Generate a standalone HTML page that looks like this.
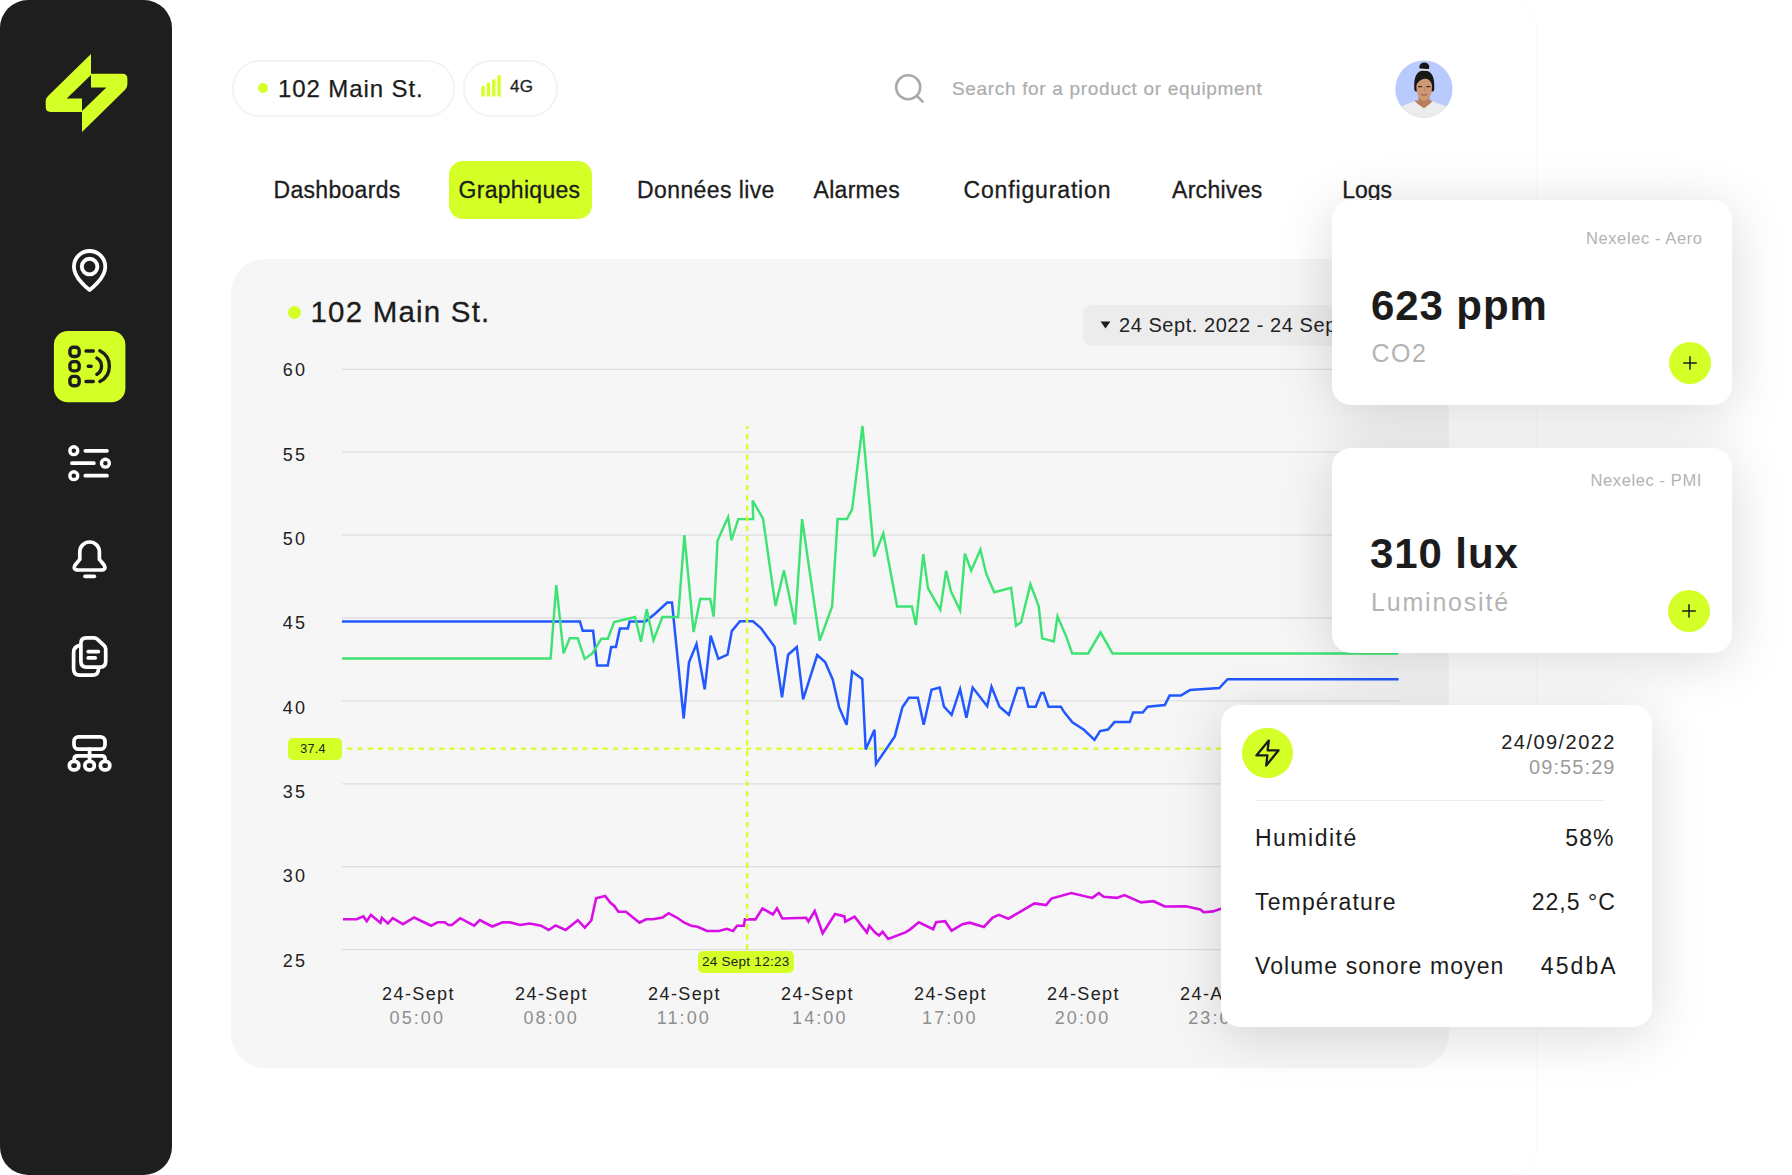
<!DOCTYPE html>
<html lang="fr">
<head>
<meta charset="utf-8">
<title>Graphiques – 102 Main St.</title>
<style>
*{box-sizing:border-box;margin:0;padding:0}
html,body{width:1792px;height:1175px;overflow:hidden;background:#fff}
body{position:relative;font-family:"Liberation Sans",sans-serif;color:#1c1c1c}
.abs{position:absolute}
.sidebar{position:absolute;left:0;top:0;width:172px;height:1175px;background:#1e1e1e;border-radius:28px}
.main{position:absolute;left:100px;top:-2px;width:1437px;height:1180px;border:1px solid #fbfbfb;border-left:0;border-radius:0 30px 30px 0;background:#fff}
.pill{position:absolute;top:60px;height:57px;border:2px solid #f3f3f3;border-radius:28px;background:#fff}
.tab{position:absolute;top:176.2px;-webkit-text-stroke:.3px #1c1c1c;font-size:23px;line-height:28px;letter-spacing:.3px;white-space:nowrap;color:#1c1c1c}
.tabbg{position:absolute;left:449px;top:161px;width:143px;height:57.7px;border-radius:14px;background:#d4ff27}
.panel{position:absolute;left:231px;top:259px;width:1218px;height:809px;border-radius:34px;background:#f6f6f6}
.card{position:absolute;background:#fff;border-radius:19px;box-shadow:0 8px 55px rgba(0,0,0,.15)}
.big{position:absolute;font-weight:bold;font-size:42px;line-height:48px;letter-spacing:.9px;white-space:nowrap;color:#1c1c1c}
.sub{position:absolute;font-size:25px;line-height:30px;color:#b4b4b4;white-space:nowrap}
.src{position:absolute;font-size:16.5px;line-height:20px;color:#b3b3b3;white-space:nowrap;text-align:right}
.plus{position:absolute;width:42px;height:42px;border-radius:50%;background:#d4ff27}
.row{position:absolute;font-size:23px;line-height:28px;white-space:nowrap;color:#1c1c1c}
svg text.ax{font-family:"Liberation Sans",sans-serif;font-size:18px;letter-spacing:2.3px;fill:#222}
svg text.xd{font-family:"Liberation Sans",sans-serif;font-size:18px;letter-spacing:1.4px;fill:#222}
svg text.xt{font-family:"Liberation Sans",sans-serif;font-size:18px;letter-spacing:2.1px;fill:#8f8f8f}
</style>
</head>
<body>
<div class="main"></div>
<div class="sidebar"></div>

<!-- SIDEBAR ICONS -->
<svg class="abs" style="left:0;top:0" width="172" height="1175" viewBox="0 0 172 1175" fill="none">
  <!-- logo -->
  <path d="M91 53.9 V74.9 L66.7 98.5 H82 V111.9 H50.6 Q45.7 111.9 45.7 107 V101.5 Q45.7 98.3 48 96 Z" fill="#d4ff27"/>
  <path d="M91 73.8 H122.5 Q127.4 73.8 127.4 78.7 V84.2 Q127.4 87.4 125.1 89.7 L82 132 V111 L106.4 87.4 H91 Z" fill="#d4ff27"/>
  <!-- pin -->
  <path d="M89.6 290 C89.6 290 73.9 278.5 73.9 266.7 A15.7 15.7 0 0 1 105.3 266.7 C105.3 278.5 89.6 290 89.6 290 Z" stroke="#fff" stroke-width="3.8" stroke-linejoin="round"/>
  <circle cx="89.6" cy="266.6" r="7.8" stroke="#fff" stroke-width="3.9"/>
  <!-- active tile -->
  <rect x="53.9" y="330.9" width="71.5" height="71.4" rx="14" fill="#d4ff27"/>
  <g stroke="#1e1e1e" stroke-width="3.4" stroke-linecap="round">
    <rect x="69.9" y="347.2" width="9.3" height="9.3" rx="3.4"/>
    <rect x="69.9" y="361.6" width="9.3" height="9.3" rx="3.4"/>
    <rect x="69.9" y="376.4" width="9.3" height="9.3" rx="3.4"/>
    <path d="M86 351 H93.3 M88.2 366.2 H91.2 M86 381.5 H93.3"/>
    <path d="M96.9 358.1 A9.4 9.4 0 0 1 96.9 374.3"/>
    <path d="M99.9 350.8 A17.2 17.2 0 0 1 99.9 381.5"/>
  </g>
  <!-- sliders -->
  <g stroke="#fff" stroke-width="3.7" stroke-linecap="round">
    <circle cx="73.8" cy="450.7" r="3.95" stroke-width="3.4"/>
    <circle cx="105.4" cy="463.2" r="3.95" stroke-width="3.4"/>
    <circle cx="73.8" cy="475.7" r="3.95" stroke-width="3.4"/>
    <path d="M85.3 450.8 H107 M71.9 463.2 H93.9 M85.3 475.7 H107"/>
  </g>
  <!-- bell -->
  <g stroke="#fff" stroke-width="3.7" stroke-linecap="round" stroke-linejoin="round">
    <path d="M79.8 559.4 V551.8 A9.8 9.8 0 0 1 99.4 551.8 V559.4 L103.9 564.7 Q106.9 570 101 570 H78.2 Q72.3 570 75.3 564.7 Z"/>
    <path d="M85 576.3 H94.3"/>
  </g>
  <!-- documents -->
  <g stroke="#fff" stroke-width="3.7" stroke-linecap="round" stroke-linejoin="round">
    <path d="M86.4 637.9 H94 Q96 637.9 97.5 639.3 L104.2 645.6 Q105.7 647 105.7 649 V661.6 Q105.7 667.1 100.2 667.1 H86.4 Q80.9 667.1 80.9 661.6 V643.4 Q80.9 637.9 86.4 637.9 Z"/>
    <path d="M80.4 645.4 Q73.6 646.2 73.6 652.6 V669 Q73.6 675.1 79.7 675.1 H92.4 Q98.5 675.1 98.5 669"/>
    <path d="M88.2 651.6 H98.4 M88.2 657.9 H95.2"/>
  </g>
  <!-- network -->
  <g stroke="#fff" stroke-width="3.7" stroke-linecap="round" stroke-linejoin="round">
    <rect x="74" y="736.8" width="31" height="12.4" rx="4.5"/>
    <path d="M89.6 749.2 V760.5 M74.1 760.5 V759.3 Q74.1 755.8 77.6 755.8 H101.6 Q105.1 755.8 105.1 759.3 V760.5"/>
    <rect x="69.4" y="761.3" width="9.4" height="8.6" rx="3.9"/>
    <rect x="84.9" y="761.3" width="9.4" height="8.6" rx="3.9"/>
    <rect x="100.4" y="761.3" width="9.4" height="8.6" rx="3.9"/>
  </g>
</svg>

<!-- TOP BAR -->
<div class="pill" style="left:232px;width:222.8px"></div>
<div class="abs" style="left:257.5px;top:83px;width:10px;height:10px;border-radius:50%;background:#d4ff27"></div>
<div class="abs" id="t_addr" style="-webkit-text-stroke:.25px #1c1c1c;left:278px;top:74px;font-size:24px;line-height:30px;letter-spacing:.9px;white-space:nowrap">102 Main St.</div>
<div class="pill" style="left:463px;width:95px"></div>
<svg class="abs" style="left:478px;top:70px" width="30" height="30" viewBox="478 70 30 30">
  <rect x="481.3" y="86.1" width="3.5" height="10.4" fill="#d4ff27"/>
  <rect x="486.7" y="82.8" width="3.5" height="13.7" fill="#d4ff27"/>
  <rect x="492" y="79.3" width="3.5" height="17.2" fill="#d4ff27"/>
  <rect x="497.3" y="75.4" width="3.5" height="21.1" fill="#d4ff27"/>
</svg>
<div class="abs" id="t_4g" style="-webkit-text-stroke:.3px #222;left:510px;top:76px;font-size:17px;line-height:22px;letter-spacing:.2px;white-space:nowrap;color:#222">4G</div>

<svg class="abs" style="left:890px;top:70px" width="40" height="40" viewBox="890 70 40 40" fill="none" stroke="#a9a9a9" stroke-width="2.6" stroke-linecap="round">
  <circle cx="908.2" cy="87.2" r="12"/>
  <path d="M916.9 95.9 L922.6 101.6"/>
</svg>
<div class="abs" id="t_search" style="left:952px;top:77px;font-size:19px;line-height:24px;letter-spacing:.67px;color:#adadad;-webkit-text-stroke:.2px #adadad;white-space:nowrap">Search for a product or equipment</div>

<!-- avatar -->
<svg class="abs" style="left:1395px;top:60px" width="58" height="58" viewBox="0 0 58 58">
  <defs><clipPath id="av"><circle cx="28.9" cy="29" r="28.6"/></clipPath></defs>
  <g clip-path="url(#av)">
    <rect width="58" height="58" fill="#b9caff"/>
    <path d="M-2 58 V50 Q6 46.5 18.5 41.6 H38.5 Q51 46.5 60 50 V58 Z" fill="#ececec"/>
    <path d="M19.6 40.6 H37.4 Q36 44 29 48.2 Q21.5 44 19.6 40.6 Z" fill="#b67f5c"/>
    <path d="M23.5 34 H34.5 V42.5 H23.5 Z" fill="#b67f5c"/>
    <ellipse cx="29.3" cy="6.8" rx="5" ry="4.4" fill="#151515"/>
    <path d="M19.2 27 Q18.6 10.6 29.2 10.4 Q39.8 10.6 39.3 27 Q39.6 31 38 31.4 L20.6 31.4 Q19 31 19.2 27 Z" fill="#191919"/>
    <path d="M21.4 26 Q21.4 18.4 29.2 18.4 Q37 18.4 37 26 Q37 35 33.6 38.6 Q31.4 40.8 29.2 40.8 Q27 40.8 24.8 38.6 Q21.4 35 21.4 26 Z" fill="#cf9874"/>
    <path d="M21.2 25.5 Q23.6 19.6 30.6 18.2 Q26 17.2 22.6 19.6 Q20.6 22 21.2 25.5 Z M37.2 25.5 Q36.4 21 32 18.6 Q36 18.4 37.4 21.6 Z" fill="#191919"/>
    <path d="M24.8 8.4 L34 9.2 L33.8 11 L24.6 10.4 Z" fill="#e9e9e9"/>
    <path d="M23.2 26.6 h4 M31.4 26.6 h4" stroke="#3b2a20" stroke-width="1.2"/>
    <path d="M29.4 27.5 V31.4" stroke="#b9825e" stroke-width="1"/>
    <path d="M26.2 34.4 Q29.2 36.4 32.2 34.4" stroke="#8c5843" stroke-width="1" fill="none"/>
  </g>
</svg>

<!-- TABS -->
<div class="tabbg"></div>
<div class="tab" id="tab1" style="left:273.5px">Dashboards</div>
<div class="tab" id="tab2" style="left:458.5px">Graphiques</div>
<div class="tab" id="tab3" style="left:637px;letter-spacing:.4px">Données live</div>
<div class="tab" id="tab4" style="left:813.5px">Alarmes</div>
<div class="tab" id="tab5" style="left:963.5px;letter-spacing:.85px">Configuration</div>
<div class="tab" id="tab6" style="left:1172px">Archives</div>
<div class="tab" id="tab7" style="left:1342.2px;letter-spacing:0">Logs</div>

<!-- CHART PANEL -->
<div class="panel"></div>
<div class="abs" style="left:288px;top:305.5px;width:13px;height:13px;border-radius:50%;background:#d4ff27"></div>
<div class="abs" id="t_title" style="-webkit-text-stroke:.3px #1c1c1c;left:310.5px;top:294px;font-size:29.5px;line-height:36px;letter-spacing:1.2px;white-space:nowrap">102 Main St.</div>
<div class="abs" style="left:1083px;top:304.5px;width:366px;height:41.5px;border-radius:9px 0 0 9px;background:#ececec"></div>
<svg class="abs" style="left:1098px;top:318px" width="16" height="14" viewBox="1098 318 16 14"><path d="M1100.6 321.6 H1110.4 L1105.5 328.6 Z" fill="#1c1c1c"/></svg>
<div class="abs" id="t_range" style="left:1119px;top:312.5px;font-size:20px;line-height:25px;letter-spacing:.55px;white-space:nowrap;color:#222">24 Sept. 2022 - 24 Sept. 2022</div>

<svg class="abs" style="left:0;top:0" width="1792" height="1175" viewBox="0 0 1792 1175">
<line x1="342" y1="369.3" x2="1400" y2="369.3" stroke="#dedede" stroke-width="1.3"/>
<line x1="342" y1="452.2" x2="1400" y2="452.2" stroke="#dedede" stroke-width="1.3"/>
<line x1="342" y1="535.1" x2="1400" y2="535.1" stroke="#dedede" stroke-width="1.3"/>
<line x1="342" y1="618.0" x2="1400" y2="618.0" stroke="#dedede" stroke-width="1.3"/>
<line x1="342" y1="700.9" x2="1400" y2="700.9" stroke="#dedede" stroke-width="1.3"/>
<line x1="342" y1="783.8" x2="1400" y2="783.8" stroke="#dedede" stroke-width="1.3"/>
<line x1="342" y1="866.7" x2="1400" y2="866.7" stroke="#dedede" stroke-width="1.3"/>
<line x1="342" y1="949.6" x2="1400" y2="949.6" stroke="#dedede" stroke-width="1.3"/>
<polyline points="343.0,919.3 356.6,919.3 363.4,916.4 366.8,921.2 370.9,914.9 380.4,922.7 381.9,917.9 387.9,923.5 392.7,918.2 403.0,924.2 414.1,917.5 431.2,925.7 437.6,922.3 444.7,922.3 448.5,925.0 451.8,925.0 460.2,918.2 474.1,925.7 479.8,920.0 492.2,926.5 502.7,922.4 510.3,922.4 520.0,925.0 529.8,923.5 541.1,925.7 548.7,930.0 555.5,925.4 565.6,930.0 577.8,920.2 584.8,927.7 591.3,920.5 596.1,898.3 605.1,896.0 610.5,902.8 614.3,905.9 618.4,911.7 625.9,911.7 639.5,922.7 646.0,919.3 652.7,919.3 662.5,917.5 668.6,913.2 676.8,917.5 684.4,922.7 691.2,925.7 697.6,926.8 707.0,931.0 719.0,931.0 726.9,928.8 733.0,931.0 737.1,925.7 743.9,925.7 744.9,919.4 755.5,919.4 762.4,908.4 773.0,914.4 777.0,908.4 782.3,918.5 806.1,917.8 808.4,921.5 814.7,911.0 822.7,933.3 835.0,914.0 844.4,916.4 845.3,921.7 854.6,916.7 866.9,932.5 869.3,925.7 875.1,932.5 879.1,935.5 882.6,931.8 888.2,939.0 906.0,932.1 910.5,929.1 918.8,922.3 933.1,929.2 936.1,922.3 945.1,921.2 951.6,930.7 962.5,924.2 969.7,922.7 983.9,927.0 992.6,917.5 998.9,914.9 1008.4,918.7 1034.5,903.4 1046.1,905.0 1051.4,898.6 1071.2,893.1 1092.3,897.9 1098.8,893.1 1103.8,896.7 1116.8,897.9 1124.4,895.1 1141.0,902.4 1153.5,901.2 1164.8,906.5 1185.9,906.2 1200.2,909.5 1203.7,912.2 1213.0,911.4 1220.1,908.9 1240.0,905.0 1398.0,905.0" fill="none" stroke="#d70fe6" stroke-width="2.6" stroke-linejoin="miter"/>
<polyline points="342.0,621.5 579.9,621.5 582.7,630.8 593.1,630.8 597.1,665.4 607.8,665.4 611.2,647.1 615.9,647.1 619.9,628.5 627.9,628.5 629.6,621.5 645.5,621.5 655.6,613.2 667.2,602.6 672.0,602.6 683.7,718.5 689.0,662.3 696.5,644.0 704.7,689.4 710.7,635.6 718.3,658.8 727.5,654.7 731.8,631.1 739.9,621.3 752.9,621.3 760.9,628.1 774.5,646.7 782.0,697.2 788.1,654.7 796.8,647.0 803.1,699.4 817.2,655.0 825.1,662.1 832.7,679.5 839.1,707.2 846.6,724.8 852.1,671.6 862.2,678.9 865.7,749.4 874.5,729.8 876.0,764.0 894.8,736.4 902.4,707.2 908.9,697.7 917.9,697.7 923.7,724.8 931.5,689.7 939.7,687.6 944.0,706.7 951.6,714.8 960.1,689.2 966.4,717.8 972.7,687.6 987.2,706.2 991.5,686.8 999.5,706.7 1008.9,714.8 1017.6,687.9 1023.6,687.9 1028.4,706.7 1035.7,706.7 1041.2,693.0 1043.7,693.0 1048.5,706.7 1060.8,706.7 1064.3,712.3 1072.4,722.3 1083.9,729.8 1094.5,739.9 1100.0,731.1 1108.0,729.5 1114.5,722.1 1129.8,722.1 1133.1,712.5 1142.7,712.5 1147.7,706.7 1164.8,705.1 1169.6,695.6 1180.9,695.6 1189.9,690.1 1219.3,688.1 1227.6,679.2 1398.6,679.2" fill="none" stroke="#2158ff" stroke-width="2.5" stroke-linejoin="miter" stroke-miterlimit="3.9"/>
<polyline points="342.0,658.4 550.6,658.4 556.3,585.1 563.6,653.4 569.7,638.3 577.7,638.3 584.7,658.9 592.3,653.4 601.3,638.8 607.8,638.8 614.2,622.0 635.0,617.0 641.0,641.8 646.7,609.2 653.5,640.3 662.4,617.0 678.1,617.0 684.4,535.2 693.6,632.1 700.2,599.0 710.2,599.0 713.7,616.6 717.5,540.7 728.1,517.1 731.5,540.2 738.3,519.1 753.2,519.1 752.6,500.5 763.0,518.6 775.5,606.0 784.0,570.4 795.1,624.6 802.1,519.1 819.7,640.7 832.1,606.4 837.6,519.0 846.9,519.0 852.1,509.4 862.5,426.0 874.2,556.6 883.3,533.5 897.1,606.4 911.9,606.4 915.9,624.9 923.3,554.1 928.0,588.3 940.3,609.9 946.1,570.7 951.1,591.8 960.1,610.4 964.9,553.6 971.2,570.7 980.4,549.6 986.2,573.7 994.2,592.2 1011.1,587.9 1016.1,625.8 1021.1,622.3 1030.4,584.1 1038.7,606.2 1042.2,638.4 1053.8,641.4 1057.5,616.3 1065.8,635.4 1072.2,653.4 1088.2,653.4 1100.5,632.3 1112.5,653.4 1398.3,653.4" fill="none" stroke="#3fe373" stroke-width="2.45" stroke-linejoin="miter"/>
<line x1="342" y1="748.6" x2="1400" y2="748.6" stroke="#d4ff27" stroke-width="2.1" stroke-dasharray="5.1 5.12" stroke-dashoffset="4.9"/>
<line x1="747.1" y1="426" x2="747.1" y2="950" stroke="#d4ff27" stroke-width="2.4" stroke-dasharray="5.2 5.01" stroke-dashoffset="2.2"/>
<text x="307.4" y="376.4" text-anchor="end" class="ax">60</text>
<text x="307.4" y="460.7" text-anchor="end" class="ax">55</text>
<text x="307.4" y="545.0" text-anchor="end" class="ax">50</text>
<text x="307.4" y="629.3" text-anchor="end" class="ax">45</text>
<text x="307.4" y="713.6" text-anchor="end" class="ax">40</text>
<text x="307.4" y="797.9" text-anchor="end" class="ax">35</text>
<text x="307.4" y="882.2" text-anchor="end" class="ax">30</text>
<text x="307.4" y="966.5" text-anchor="end" class="ax">25</text>
<text x="418.5" y="1000.3" text-anchor="middle" class="xd">24-Sept</text>
<text x="417.3" y="1023.6" text-anchor="middle" class="xt">05:00</text>
<text x="551.5" y="1000.3" text-anchor="middle" class="xd">24-Sept</text>
<text x="551.2" y="1023.6" text-anchor="middle" class="xt">08:00</text>
<text x="684.5" y="1000.3" text-anchor="middle" class="xd">24-Sept</text>
<text x="683.8" y="1023.6" text-anchor="middle" class="xt">11:00</text>
<text x="817.5" y="1000.3" text-anchor="middle" class="xd">24-Sept</text>
<text x="819.8" y="1023.6" text-anchor="middle" class="xt">14:00</text>
<text x="950.5" y="1000.3" text-anchor="middle" class="xd">24-Sept</text>
<text x="949.8" y="1023.6" text-anchor="middle" class="xt">17:00</text>
<text x="1083.5" y="1000.3" text-anchor="middle" class="xd">24-Sept</text>
<text x="1082.5" y="1023.6" text-anchor="middle" class="xt">20:00</text>
<text x="1216.5" y="1000.3" text-anchor="middle" class="xd">24-Août</text>
<text x="1216.0" y="1023.6" text-anchor="middle" class="xt">23:00</text>
</svg>

<!-- crosshair labels -->
<div class="abs" style="left:288px;top:737.5px;width:54px;height:22.5px;border-radius:5px;background:#d4ff27"></div>
<div class="abs" id="t_374" style="left:288px;top:741px;width:50px;text-align:center;font-size:12.5px;line-height:16px;letter-spacing:.3px;color:#222">37.4</div>
<div class="abs" style="left:697.5px;top:950.5px;width:96.5px;height:22.5px;border-radius:5px;background:#d4ff27"></div>
<div class="abs" id="t_tip" style="left:697.5px;top:954px;width:96.5px;text-align:center;font-size:13.5px;line-height:16px;letter-spacing:.25px;color:#222;white-space:nowrap">24 Sept 12:23</div>

<!-- CARD 1 -->
<div class="card" style="left:1332px;top:200px;width:400px;height:204.5px"></div>
<div class="src" id="t_src1" style="left:1502px;top:227.5px;width:200.6px;letter-spacing:.6px">Nexelec - Aero</div>
<div class="big" id="t_big1" style="left:1371px;top:281.8px">623 ppm</div>
<div class="sub" id="t_sub1" style="left:1371.5px;top:338px;letter-spacing:1.5px">CO2</div>
<div class="plus" style="left:1669px;top:341.5px"></div>
<svg class="abs" style="left:1669px;top:341.5px" width="42" height="42" viewBox="0 0 42 42"><path d="M21 14.2 V27.8 M14.2 21 H27.8" stroke="#1c1c1c" stroke-width="1.5" fill="none"/></svg>

<!-- CARD 2 -->
<div class="card" style="left:1332px;top:447.5px;width:400px;height:205px"></div>
<div class="src" id="t_src2" style="left:1502px;top:470px;width:200px;letter-spacing:.6px">Nexelec - PMI</div>
<div class="big" id="t_big2" style="left:1370px;top:529.5px">310 lux</div>
<div class="sub" id="t_sub2" style="left:1371px;top:586.5px;letter-spacing:1.8px">Luminosité</div>
<div class="plus" style="left:1667.8px;top:589.5px"></div>
<svg class="abs" style="left:1667.8px;top:589.5px" width="42" height="42" viewBox="0 0 42 42"><path d="M21 14.2 V27.8 M14.2 21 H27.8" stroke="#1c1c1c" stroke-width="1.5" fill="none"/></svg>

<!-- CARD 3 -->
<div class="card" style="left:1220.5px;top:704.5px;width:431.5px;height:322.5px"></div>
<div class="abs" style="left:1242px;top:727.5px;width:50.5px;height:50.5px;border-radius:50%;background:#d4ff27"></div>
<svg class="abs" style="left:1242px;top:727.5px" width="50.5" height="50.5" viewBox="1242 727.5 50.5 50.5" fill="none"><path d="M1268.8 740.1 L1256.4 754.9 H1267.4 L1266.2 765.1 L1278.6 749.8 H1267.6 Z" stroke="#1c1c1c" stroke-width="2.3" stroke-linejoin="round"/></svg>
<div class="abs" id="t_date" style="left:1414px;top:729.5px;width:201.9px;text-align:right;font-size:20px;line-height:25px;letter-spacing:1.45px;color:#222;white-space:nowrap">24/09/2022</div>
<div class="abs" id="t_time" style="left:1414px;top:754.5px;width:201.6px;text-align:right;font-size:20px;line-height:25px;letter-spacing:1.1px;color:#9b9b9b;white-space:nowrap">09:55:29</div>
<div class="abs" style="left:1256px;top:799.5px;width:348px;height:1.5px;background:#ececec"></div>
<div class="row" id="r1a" style="left:1255px;top:824px;letter-spacing:1.5px">Humidité</div>
<div class="row" id="r1b" style="left:1414px;top:824px;width:200.6px;text-align:right;letter-spacing:1.1px">58%</div>
<div class="row" id="r2a" style="left:1255px;top:888px;letter-spacing:1.15px">Température</div>
<div class="row" id="r2b" style="left:1414px;top:888px;width:202px;text-align:right;letter-spacing:1.05px">22,5 °C</div>
<div class="row" id="r3a" style="left:1255px;top:951.5px;letter-spacing:1.08px">Volume sonore moyen</div>
<div class="row" id="r3b" style="left:1414px;top:951.5px;width:203.8px;text-align:right;letter-spacing:2.1px">45dbA</div>
</body>
</html>
